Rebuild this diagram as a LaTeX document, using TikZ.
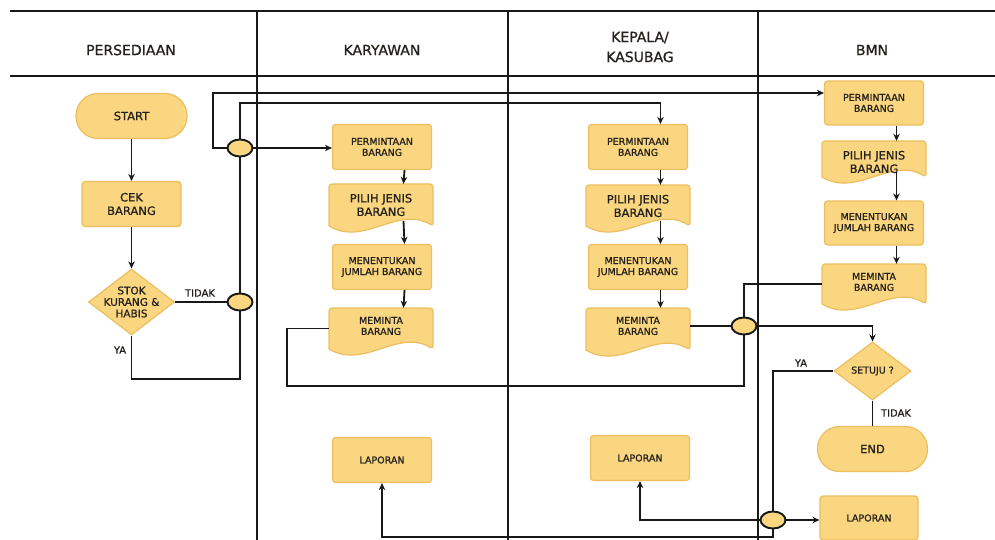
\documentclass[tikz,border=0pt]{standalone}
\usepackage{fontspec}
\setmainfont{DejaVu Sans}[FakeBold=0.9]
\usetikzlibrary{arrows.meta,shapes.geometric}
\definecolor{boxfill}{RGB}{250,214,128}
\definecolor{boxedge}{RGB}{236,190,96}
\definecolor{ink}{RGB}{24,24,24}
\definecolor{txt}{RGB}{36,32,28}
\tikzset{
  lane/.style={draw=ink, line width=2.8pt},
  hline/.style={draw=ink, line width=1.8pt},
  conn/.style={draw=ink, line width=1.8pt},
  arr/.style={conn, -{Stealth[length=7pt,width=6.5pt]}},
  hdr/.style={font=\fontsize{14}{20}\selectfont, text=txt, align=center},
  proc/.style={draw=boxedge, fill=boxfill, line width=1.2pt, rounded corners=3pt, minimum width=99pt, minimum height=45pt, inner sep=0pt, align=center, text=txt},
  term/.style={proc, rounded corners=22pt, minimum width=111pt},
  dec/.style={diamond, draw=boxedge, fill=boxfill, line width=1.2pt, inner sep=0pt},
  docshape/.style={draw=boxedge, fill=boxfill, line width=1.2pt},
  doctext/.style={align=center, text=txt, inner sep=0pt},
  junc/.style={ellipse, draw=ink, fill=boxfill, line width=1.9pt, minimum width=25pt, minimum height=17pt, inner sep=0pt},
  lbl/.style={font=\fontsize{10}{12}\selectfont, text=txt, inner sep=1pt},
  fs/.style={font=\fontsize{9.5}{11}\selectfont},
  fb/.style={font=\fontsize{11.5}{13.5}\selectfont},
  fd/.style={font=\fontsize{10.5}{11.5}\selectfont, align=center, text=txt, inner sep=0pt},
}
% name, cx, top, bottom, text y, font style, text
\newcommand{\docnode}[7]{%
  \filldraw[docshape] ({#2-52},{#4}) [rounded corners=3pt] -- ({#2-52},{#3}) -- ({#2+52},{#3}) -- ({#2+52},{#4}) [sharp corners] .. controls ({#2+17},{#4-21}) and ({#2-17},{#4+21}) .. ({#2-52},{#4}) -- cycle;
  \node[inner sep=0pt, minimum width=104pt, minimum height={#4-#3}] (#1) at ({#2},{(#3+#4)/2}) {};
  \node[doctext, #6] (#1t) at ({#2},{#5}) {#7};
  \coordinate (#1s) at ({#2+22.5},{#4-5});
}
\begin{document}
\begin{tikzpicture}[x=1pt,y=-1pt]
\useasboundingbox (0,0) rectangle (995,540);
% swimlanes
\draw[hline] (10,11) -- (995,11);
\draw[lane] (10,76) -- (995,76);
\draw[lane] (257,11) -- (257,540);
\draw[lane] (508,11) -- (508,540);
\draw[lane] (758,11) -- (758,540);
\node[hdr] (h1) at (131,50) {PERSEDIAAN};
\node[hdr] (h2) at (382,50) {KARYAWAN};
\node[hdr] (h3) at (640,47) {KEPALA/\\KASUBAG};
\node[hdr] (h4) at (872,50) {BMN};
% persediaan
\node[term, fb] (startn) at (131.5,116) {START};
\node[proc, fb] (cek) at (131.5,204) {CEK\\BARANG};
\node[dec, minimum width=86pt, minimum height=66pt] (stok) at (131.5,302) {};
\node[fd] (stokt) at (131.5,302) {STOK\\KURANG \&\\HABIS};
% karyawan
\node[proc, fs] (kperm) at (382,147) {PERMINTAAN\\BARANG};
\docnode{kpilih}{381}{184}{226}{205}{fb}{PILIH JENIS\\BARANG}
\node[proc, fs] (kmen) at (382,267) {MENENTUKAN\\JUMLAH BARANG};
\docnode{kmem}{381}{308}{349}{326}{fs}{MEMINTA\\BARANG}
\node[proc, fs] (klap) at (382,460) {LAPORAN};
% kepala
\node[proc, fs] (pperm) at (638,147) {PERMINTAAN\\BARANG};
\docnode{ppilih}{638}{185}{226}{206}{fb}{PILIH JENIS\\BARANG}
\node[proc, fs] (pmen) at (638,267) {MENENTUKAN\\JUMLAH BARANG};
\docnode{pmem}{638}{308}{350}{326}{fs}{MEMINTA\\BARANG}
\node[proc, fs] (plap) at (640,458) {LAPORAN};
% bmn
\node[proc, fs, minimum height=44pt] (bperm) at (874,103) {PERMINTAAN\\BARANG};
\docnode{bpilih}{874}{141}{177}{162}{fb}{PILIH JENIS\\BARANG}
\node[proc, fs, minimum height=44pt] (bmen) at (874,223) {MENENTUKAN\\JUMLAH BARANG};
\docnode{bmem}{874}{264}{304}{282}{fs}{MEMINTA\\BARANG}
\node[dec, minimum width=77pt, minimum height=58pt] (setuju) at (872.5,371) {};
\node[fd, fs] (setujut) at (872.5,371) {SETUJU ?};
\node[term, fb, minimum width=110pt] (endn) at (872.5,449) {END};
\node[proc, fs, minimum width=98pt, minimum height=44pt] (blap) at (869,518) {LAPORAN};
% junctions
\node[junc] (j1) at (240,148) {};
\node[junc] (j2) at (240,302) {};
\node[junc] (j3) at (744,326) {};
\node[junc] (j4) at (773,520) {};
% connectors persediaan
\draw[arr] (startn) -- (cek);
\draw[arr] (cek) -- (stok);
\draw[conn] (stok.east) -- (j2.west);
\node[lbl] (tidak1) at (200,293) {TIDAK};
\coordinate (ya1) at (131.5,379);
\draw[conn] (stok.south) -- (ya1) -| (j2.south);
\node[lbl] (ya1t) at (120,350) {YA};
\draw[conn] (j2.north) -- (j1.south);
\draw[arr] (j1.east) -- (j1.east -| kperm.west);
\coordinate (c1) at (213,93);
\draw[arr] (j1.west) -| (c1) -- (c1 -| bperm.west);
\coordinate (c2) at (660.5,103);
\draw[arr] (j1.north) |- (c2) -- (c2 |- pperm.north);
% internal arrows
\draw[arr] ([xshift=22.5pt]kperm.south) -- ([xshift=22.5pt]kpilih.north);
\draw[arr] (kpilihs) -- ([xshift=22.5pt]kmen.north);
\draw[arr] ([xshift=22.5pt]kmen.south) -- ([xshift=22.5pt]kmem.north);
\draw[arr] ([xshift=22.5pt]pperm.south) -- ([xshift=22.5pt]ppilih.north);
\draw[arr] (ppilihs) -- ([xshift=22.5pt]pmen.north);
\draw[arr] ([xshift=22.5pt]pmen.south) -- ([xshift=22.5pt]pmem.north);
\draw[arr] ([xshift=22.5pt]bperm.south) -- ([xshift=22.5pt]bpilih.north);
\draw[arr] (bpilihs) -- ([xshift=22.5pt]bmen.north);
\draw[arr] ([xshift=22.5pt]bmen.south) -- ([xshift=22.5pt]bmem.north);
% meminta connections
\coordinate (c3) at (287,386);
\draw[conn] (kmem.west) -| (c3) -| (j3.south);
\draw[conn] (j3.north) |- (bmem.west);
\draw[conn] (j3.west -| pmem.east) -- (j3.west);
\draw[arr] (j3.east) -| (setuju.north);
\draw[conn] (setuju.west) -| (j4.north);
\node[lbl] (ya2) at (801,363) {YA};
\draw[conn] (setuju.south) -- (endn.north);
\node[lbl] (tidak2) at (896,413) {TIDAK};
\draw[arr] (j4.east) -- (j4.east -| blap.west);
\draw[arr] (j4.west) -| (plap.south);
\coordinate (c4) at (773,537);
\draw[arr] (j4.south) -- (c4) -| (klap.south);
\end{tikzpicture}
\end{document}
